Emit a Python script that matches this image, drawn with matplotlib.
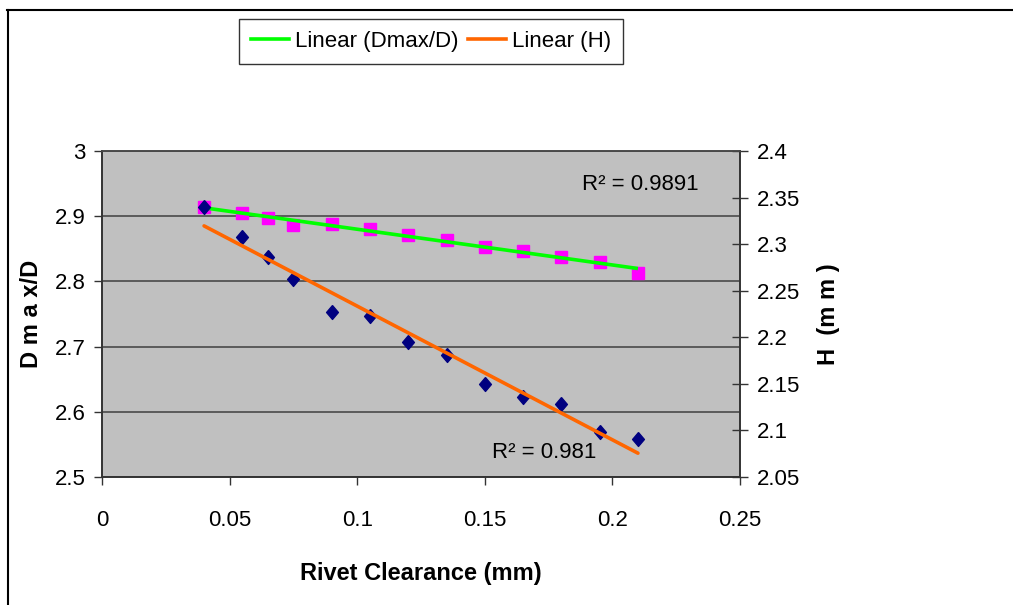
import numpy as np
import matplotlib
matplotlib.use("Agg")
import matplotlib.pyplot as plt
from matplotlib.lines import Line2D

plt.rcParams['font.family'] = ['Liberation Sans', 'DejaVu Sans']

# Rivet clearance (mm)
clearance = [0.04, 0.055, 0.065, 0.075, 0.09, 0.105, 0.12, 0.135, 0.15, 0.165, 0.18, 0.195, 0.21]
# Dmax/D ratio (left axis)
dmax_ratio = [2.914, 2.905, 2.897, 2.886, 2.888, 2.880, 2.871, 2.863, 2.853, 2.847, 2.837, 2.830, 2.813]
# Rivet head height H in mm (right axis)
head_height = [2.340, 2.308, 2.286, 2.263, 2.227, 2.223, 2.195, 2.181, 2.150, 2.136, 2.128, 2.098, 2.091]

x_ticks = [0, 0.05, 0.1, 0.15, 0.2, 0.25]
x_tick_labels = ['0', '0.05', '0.1', '0.15', '0.2', '0.25']
left_ticks = [2.5, 2.6, 2.7, 2.8, 2.9, 3.0]
left_tick_labels = ['2.5', '2.6', '2.7', '2.8', '2.9', '3']
right_ticks = [2.05, 2.1, 2.15, 2.2, 2.25, 2.3, 2.35, 2.4]
right_tick_labels = ['2.05', '2.1', '2.15', '2.2', '2.25', '2.3', '2.35', '2.4']
r2_ratio_label = 'R² = 0.9891'
r2_height_label = 'R² = 0.981'

W, H = 1013, 605
fig = plt.figure(figsize=(W / 100, H / 100), dpi=100)
fig.patch.set_facecolor('white')

ax = fig.add_axes([102 / W, 1 - 477 / H, (740 - 102) / W, (477 - 151) / H])
ax.set_facecolor('#C0C0C0')
ax2 = ax.twinx()
ax2.patch.set_visible(False)

fs = 16
x = np.array(clearance)
diamond = [(0, 1), (0.85, 0), (0, -1), (-0.85, 0), (0, 1)]

# Dmax/D data with linear trend
ax.plot(clearance, dmax_ratio, linestyle='none', marker='s', markersize=8,
        color='#FF00FF', zorder=3)
k1, b1 = np.polyfit(x, np.array(dmax_ratio), 1)
xf = np.array([clearance[0], clearance[-1]])
ax.plot(xf, k1 * xf + b1, color='#00FF00', lw=2.6, solid_capstyle='butt', zorder=4)

# H data with linear trend
ax2.plot(clearance, head_height, linestyle='none', marker=diamond, markersize=10,
         color='#000080', zorder=3)
k2, b2 = np.polyfit(x, np.array(head_height), 1)
ax2.plot(xf, k2 * xf + b2, color='#FF6600', lw=2.6, solid_capstyle='round', zorder=4)

ax.set_xlim(0, 0.25)
ax.set_ylim(2.5, 3.0)
ax2.set_ylim(2.05, 2.4)

ax.set_xticks(x_ticks)
ax.set_xticklabels(x_tick_labels)
ax.set_yticks(left_ticks)
ax.set_yticklabels(left_tick_labels)
ax2.set_yticks(right_ticks)
ax2.set_yticklabels(right_tick_labels)

ax.yaxis.grid(True, color='#4A4A4A', lw=1.2)
ax.set_axisbelow(True)

ax.tick_params(axis='x', direction='out', length=6, width=1, colors='#333333',
               labelcolor='black', labelsize=fs, pad=18)
ax.tick_params(axis='y', direction='out', length=6, width=1, colors='#333333',
               labelcolor='black', labelsize=fs, pad=6)
ax2.tick_params(axis='y', direction='inout', length=12, width=1, colors='#333333',
                labelcolor='black', labelsize=fs, pad=6)

for a in (ax, ax2):
    for side in ('left', 'bottom', 'right'):
        a.spines[side].set_color('#333333')
        a.spines[side].set_linewidth(1.2)
    a.spines['top'].set_color('#4A4A4A')
    a.spines['top'].set_linewidth(1.2)

ax.set_xlabel('Rivet Clearance (mm)', fontsize=fs + 1, fontweight='bold', labelpad=22)
ax.set_ylabel('D m a x/D', fontsize=fs + 1, fontweight='bold', labelpad=8)
ax2.set_ylabel('H  (m m )', fontsize=fs + 1, fontweight='bold', labelpad=12)

ax.text(0.188, 2.948, r2_ratio_label, fontsize=fs, va='center', ha='left')
ax.text(0.153, 2.538, r2_height_label, fontsize=fs, va='center', ha='left')

handles = [Line2D([], [], color='#00FF00', lw=2.6),
           Line2D([], [], color='#FF6600', lw=2.6)]
leg = fig.legend(handles, ['Linear (Dmax/D)', 'Linear (H)'], loc='center',
                 bbox_to_anchor=(431 / W, 1 - 41.5 / H), ncol=2, fontsize=fs,
                 frameon=True, fancybox=False, shadow=False, handlelength=1.7,
                 handletextpad=0.25, columnspacing=0.45, borderpad=0.55,
                 borderaxespad=0)
leg.get_frame().set_edgecolor('black')
leg.get_frame().set_linewidth(1.0)

# chart frame lines along the top and left edges
fig.add_artist(Line2D([7 / W, 1.0], [1 - 9.5 / H, 1 - 9.5 / H], color='black', lw=1.5,
                      transform=fig.transFigure))
fig.add_artist(Line2D([7.5 / W, 7.5 / W], [0, 1 - 9.5 / H], color='black', lw=1.5,
                      transform=fig.transFigure))

fig.savefig('out.png', dpi=100)
